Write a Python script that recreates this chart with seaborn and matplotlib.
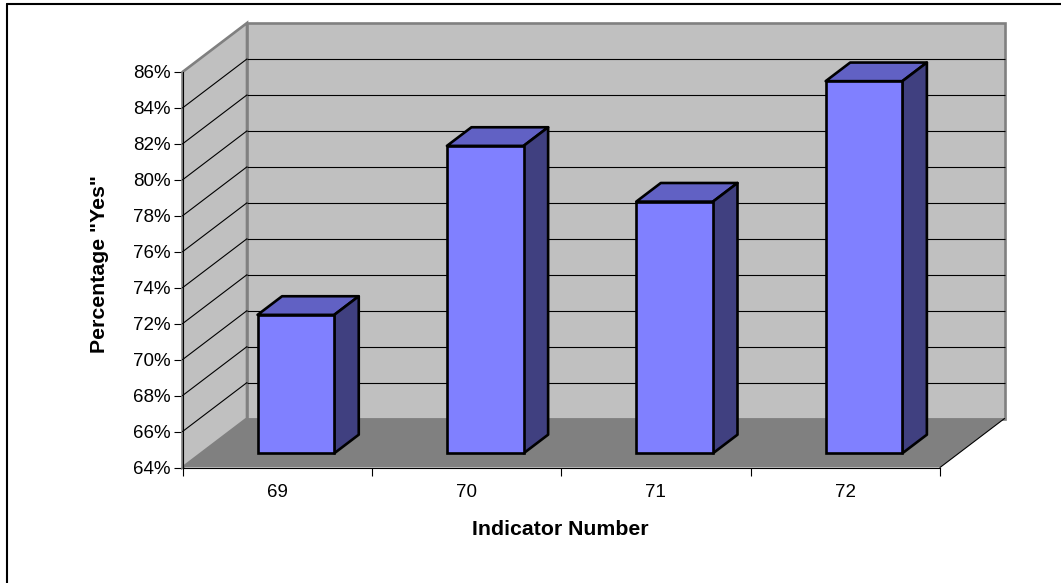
import matplotlib
matplotlib.use("Agg")
import matplotlib.pyplot as plt
from matplotlib.patches import Polygon
from matplotlib.lines import Line2D
import pandas as pd
import seaborn as sns

# ---- data ----
indicators = ["69", "70", "71", "72"]
pct_yes = [71.7, 81.1, 78.0, 84.7]
y_ticks = list(range(64, 87, 2))
y_tick_labels = [f"{v}%" for v in y_ticks]
x_label = "Indicator Number"
y_label = 'Percentage "Yes"'

sns.set_theme(style="white")
plt.rcParams["font.family"] = ["Liberation Sans", "DejaVu Sans"]

W, H = 1061, 583
fig = plt.figure(figsize=(W / 100, H / 100), dpi=100)

# axes cover the front plane of the 3-D box (pixel geometry)
px_left, px_right, px_bottom, px_top = 182.5, 940.0, 467.5, 72.0
ax = fig.add_axes([px_left / W, 1 - px_bottom / H,
                   (px_right - px_left) / W, (px_bottom - px_top) / H])

y_min, y_max = 64, 86
n = len(indicators)
x_min, x_max = -0.5, n - 0.5

# depth vector of the box in data units
px_per_cat = (px_right - px_left) / n
px_per_pct = (px_bottom - px_top) / (y_max - y_min)
DX = 64.5 / px_per_cat
DY = 49.0 / px_per_pct
t_front, t_back = 0.29, 0.67   # depth range occupied by the columns

WALL = "#C0C0C0"
WALL_EDGE = "#808080"
FLOOR = "#808080"
FRONT = "#8080FF"
TOP = "#6161C4"
SIDE = "#404080"

TICK_FS = 13.5
LABEL_FS = 15.3

df = pd.DataFrame({"Indicator": indicators, "Yes": pct_yes})
sns.barplot(data=df, x="Indicator", y="Yes", color=FRONT, saturation=1,
            width=0.405, edgecolor="black", linewidth=1.9, ax=ax, zorder=6)

ax.set_xlim(x_min, x_max)
ax.set_ylim(y_min, y_max)
ax.patch.set_visible(False)

# ---- walls and floor ----
left_wall = Polygon([(x_min, y_min), (x_min + DX, y_min + DY),
                     (x_min + DX, y_max + DY), (x_min, y_max)],
                    closed=True, facecolor=WALL, edgecolor=WALL_EDGE,
                    linewidth=1.9, zorder=1, clip_on=False)
back_wall = Polygon([(x_min + DX, y_min + DY), (x_max + DX, y_min + DY),
                     (x_max + DX, y_max + DY), (x_min + DX, y_max + DY)],
                    closed=True, facecolor=WALL, edgecolor=WALL_EDGE,
                    linewidth=1.9, zorder=1, clip_on=False)
ax.add_patch(left_wall)
ax.add_patch(back_wall)

for v in y_ticks[1:-1]:
    ax.plot([x_min + DX, x_max + DX], [v + DY, v + DY], color="black",
            lw=0.8, zorder=1.2, clip_on=False, solid_capstyle="butt")
    ax.plot([x_min, x_min + DX], [v, v + DY], color="black",
            lw=0.8, zorder=1.2, clip_on=False)

floor = Polygon([(x_min, y_min), (x_max, y_min),
                 (x_max + DX, y_min + DY), (x_min + DX, y_min + DY)],
                closed=True, facecolor=FLOOR, edgecolor="none",
                zorder=1.5, clip_on=False)
ax.add_patch(floor)
ax.plot([x_max, x_max + DX], [y_min, y_min + DY], color="black",
        lw=0.8, zorder=1.6, clip_on=False)

# ---- columns: shift the front faces into depth, add top and side faces ----
for patch, v in zip(ax.patches[:n], pct_yes):
    x0 = patch.get_x() + t_front * DX
    w = patch.get_width()
    y0 = y_min + t_front * DY
    patch.set_x(x0)
    patch.set_y(y0)
    patch.set_height(v - y_min)
    patch.set_clip_on(False)
    d_x = (t_back - t_front) * DX
    d_y = (t_back - t_front) * DY
    y1 = y0 + (v - y_min)
    top = Polygon([(x0, y1), (x0 + w, y1), (x0 + w + d_x, y1 + d_y),
                   (x0 + d_x, y1 + d_y)], closed=True, facecolor=TOP,
                  edgecolor="black", linewidth=1.9, joinstyle="round",
                  zorder=5, clip_on=False)
    side = Polygon([(x0 + w, y0), (x0 + w + d_x, y0 + d_y),
                    (x0 + w + d_x, y1 + d_y), (x0 + w, y1)], closed=True,
                   facecolor=SIDE, edgecolor="black", linewidth=1.9,
                   joinstyle="round", zorder=5, clip_on=False)
    ax.add_patch(top)
    ax.add_patch(side)

# ---- axes, ticks, labels ----
for s in ["top", "right"]:
    ax.spines[s].set_visible(False)
for s in ["left", "bottom"]:
    ax.spines[s].set_color("black")
    ax.spines[s].set_linewidth(0.8)
    ax.spines[s].set_zorder(3)

ax.set_yticks(y_ticks, y_tick_labels)
ax.set_xticks(range(n), indicators)
ax.set_xticks([i - 0.5 for i in range(n + 1)], minor=True)
ax.tick_params(axis="y", which="major", left=True, direction="out",
               length=6.5, width=0.8, color="black", pad=2.2,
               labelsize=TICK_FS, labelcolor="black")
ax.tick_params(axis="x", which="major", bottom=True, length=0, pad=12,
               labelsize=TICK_FS, labelcolor="black")
ax.tick_params(axis="x", which="minor", bottom=True, direction="out",
               length=6, width=0.8, color="black")

ax.set_xlabel(x_label, fontsize=LABEL_FS, fontweight="bold", color="black")
ax.set_ylabel(y_label, fontsize=LABEL_FS, fontweight="bold", color="black")
ax.xaxis.set_label_coords((560 - px_left) / (px_right - px_left),
                          (px_bottom - 520) / (px_bottom - px_top))
ax.yaxis.set_label_coords((109 - px_left) / (px_right - px_left),
                          (px_bottom - 264) / (px_bottom - px_top))

# chart area border
fig.add_artist(Line2D([6.5 / W, 6.5 / W], [0, 1 - 3.5 / H],
                      color="black", lw=1.5, transform=fig.transFigure))
fig.add_artist(Line2D([6.5 / W, 1], [1 - 3.5 / H, 1 - 3.5 / H],
                      color="black", lw=1.5, transform=fig.transFigure))

fig.savefig("out.png", dpi=100)
